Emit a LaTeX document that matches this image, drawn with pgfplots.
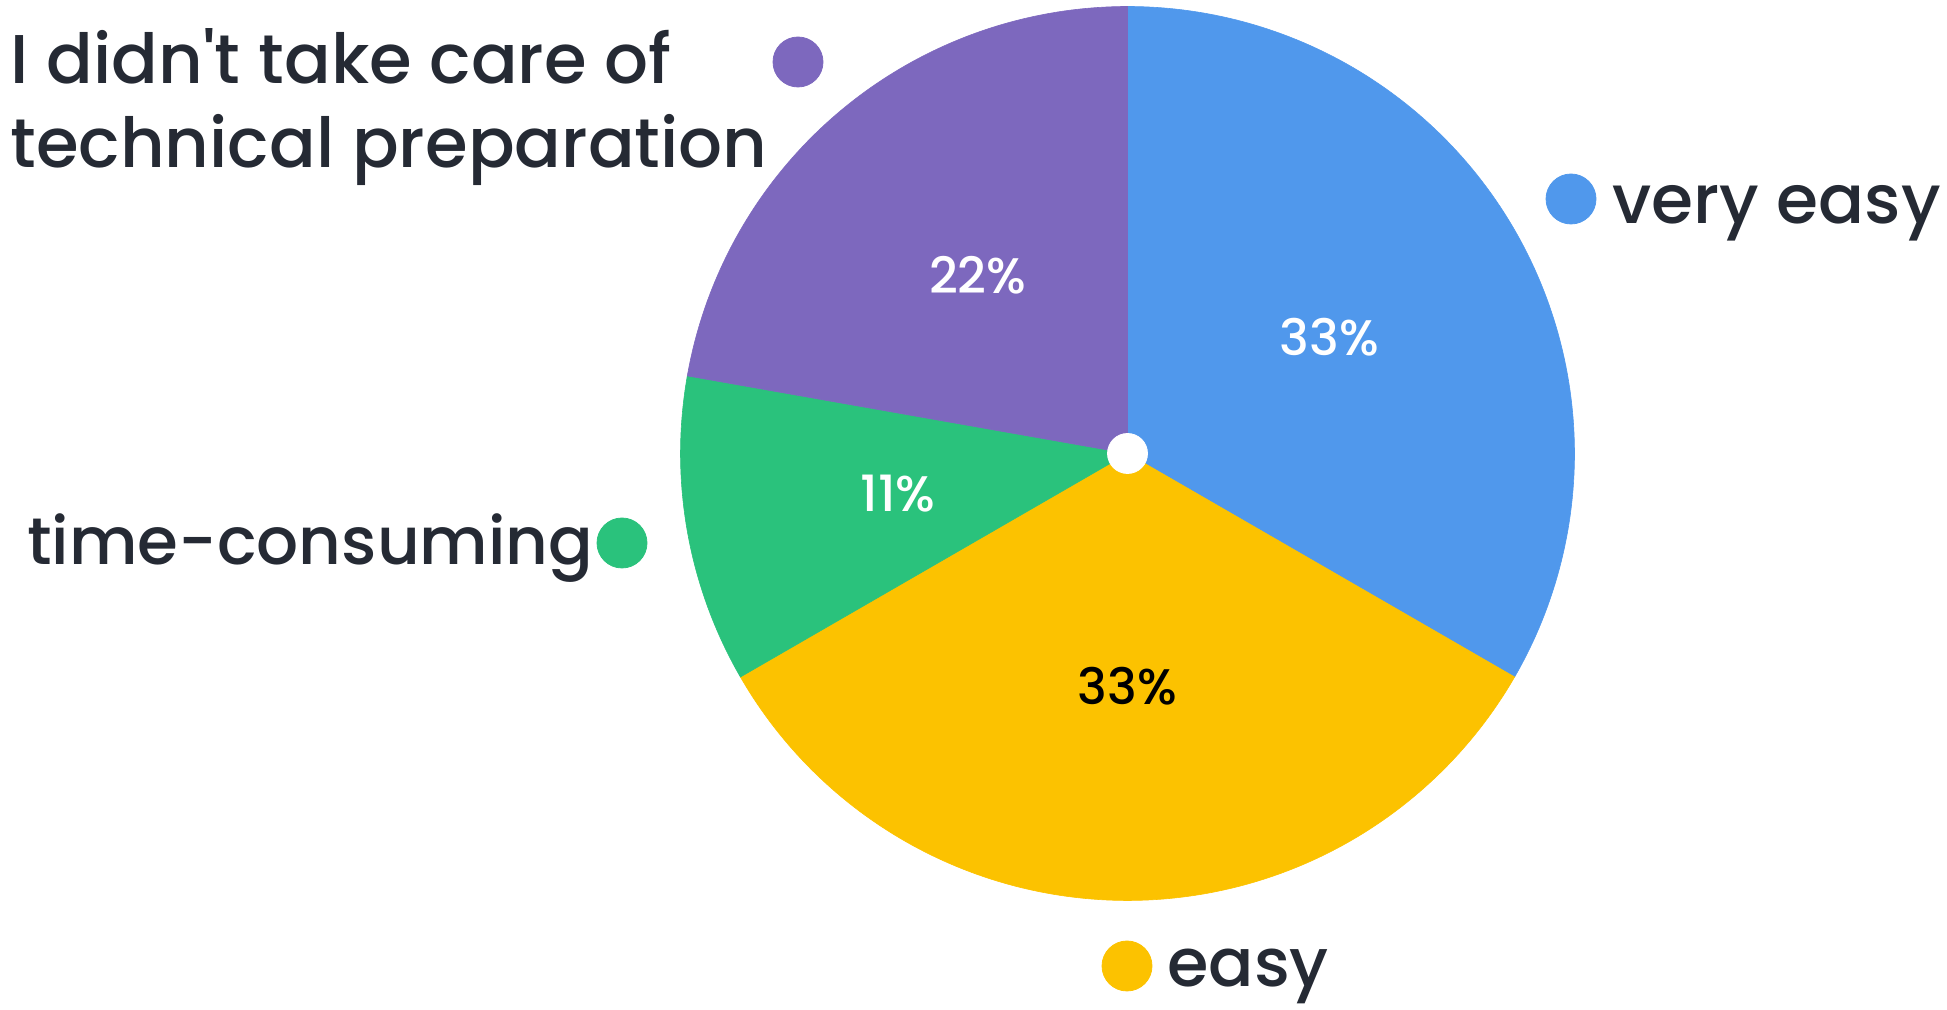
\documentclass[border=0pt]{standalone}
\usepackage{pgfplots}
\pgfplotsset{compat=1.18}
\usepackage{pgfplotstable}
\usepackage{fontspec}
\setmainfont{Poppins Medium}
\definecolor{cBlue}{HTML}{5098EC}
\definecolor{cYellow}{HTML}{FCC200}
\definecolor{cGreen}{HTML}{2AC27C}
\definecolor{cPurple}{HTML}{7D68BE}
\definecolor{cText}{HTML}{252A34}

% shares in percent, clockwise from the top
\pgfplotstableread{
share
33.333
33.333
11.111
22.222
}\pietable

\newcommand\getshare[2]{\pgfplotstablegetelem{#1}{share}\of\pietable\let#2\pgfplotsretval}
\getshare{0}\sA \getshare{1}\sB \getshare{2}\sC \getshare{3}\sD
\pgfmathsetmacro\aA{90}
\pgfmathsetmacro\aB{\aA-3.6*\sA}
\pgfmathsetmacro\aC{\aB-3.6*\sB}
\pgfmathsetmacro\aD{\aC-3.6*\sC}
\pgfmathsetmacro\aE{\aD-3.6*\sD}
\def\cx{1127.5}
\def\cy{556.5}
\def\rr{447}
\def\rl{233}

\begin{document}
\begin{tikzpicture}
\path[use as bounding box] (0,0) rectangle (973.5pt,505pt);
\begin{axis}[
    at={(0,0)}, anchor=south west,
    scale only axis, width=973.5pt, height=505pt,
    xmin=0, xmax=1947, ymin=0, ymax=1010,
    hide axis, clip=false,
    dot/.style={only marks, mark=*, color=#1, mark options={fill=#1, draw=#1}},
    slice/.style={draw=#1, fill=#1, line width=0.3pt},
]
\addplot[slice=cBlue, domain=\aB:\aA, samples=120] ({\cx+\rr*cos(x)}, {\cy+\rr*sin(x)}) -- (axis cs:\cx,\cy) -- cycle;
\addplot[slice=cYellow, domain=\aC:\aB, samples=120] ({\cx+\rr*cos(x)}, {\cy+\rr*sin(x)}) -- (axis cs:\cx,\cy) -- cycle;
\addplot[slice=cGreen, domain=\aD:\aC, samples=60] ({\cx+\rr*cos(x)}, {\cy+\rr*sin(x)}) -- (axis cs:\cx,\cy) -- cycle;
\addplot[slice=cPurple, domain=\aE:\aD, samples=90] ({\cx+\rr*cos(x)}, {\cy+\rr*sin(x)}) -- (axis cs:\cx,\cy) -- cycle;
\addplot[dot=white, mark size=10pt] coordinates {(1127.5,556.5)};

% percentages
\pgfmathsetmacro\mA{(\aA+\aB)/2}
\pgfmathsetmacro\mB{(\aB+\aC)/2}
\pgfmathsetmacro\mC{(\aC+\aD)/2}
\pgfmathsetmacro\mD{(\aD+\aE)/2}
\tikzset{pct/.style={font=\fontsize{25}{28}\selectfont}}
\node[pct, white] at (axis cs:{\cx+\rl*cos(\mA)},{\cy+\rl*sin(\mA)}) {33\%};
\node[pct, black] at (axis cs:{\cx+\rl*cos(\mB)},{\cy+\rl*sin(\mB)}) {33\%};
\node[pct, white] at (axis cs:{\cx+\rl*cos(\mC)},{\cy+\rl*sin(\mC)}) {11\%};
\node[pct, white] at (axis cs:{\cx+\rl*cos(\mD)},{\cy+\rl*sin(\mD)}) {22\%};

% legend dots
\addplot[dot=cBlue, mark size=12.5pt] coordinates {(1571,811)};
\addplot[dot=cYellow, mark size=12.5pt] coordinates {(1127,44)};
\addplot[dot=cGreen, mark size=12.5pt] coordinates {(622,467)};
\addplot[dot=cPurple, mark size=12.5pt] coordinates {(798,948)};

\tikzset{lab/.style={cText, anchor=base west, inner sep=0pt, font=\fontsize{#1}{40}\selectfont}}
\node[lab=34] at (axis cs:1612,786) {very easy};
\node[lab=33.5] at (axis cs:1167,23) {easy};
\node[lab=33] at (axis cs:27,445) {time-consuming};
\node[lab=34.5] at (axis cs:10,926) {I didn\textquotesingle t take care of};
\node[lab=34.5] at (axis cs:10,842) {technical preparation};
\end{axis}
\end{tikzpicture}
\end{document}
